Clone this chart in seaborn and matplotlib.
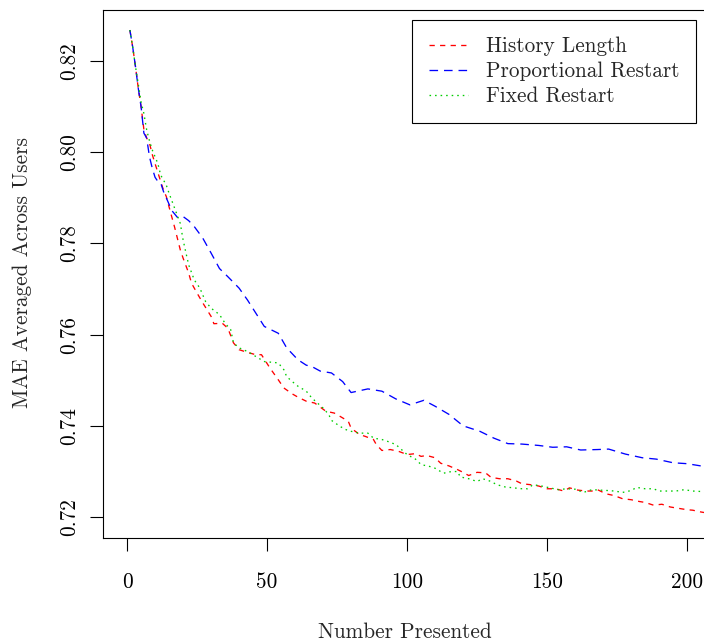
import matplotlib
matplotlib.use("Agg")
import matplotlib.pyplot as plt
import numpy as np
import pandas as pd
import seaborn as sns

# ---------------- data ----------------
hist_x = [1, 2, 3, 4, 5, 6, 7, 8, 9, 10, 12, 13, 14, 15, 17, 19, 20, 22, 23, 25, 27, 30, 31, 34,
          36, 38, 40, 43, 46, 48, 51, 54, 56, 59, 61, 64, 67, 69, 71, 74, 76, 79, 80, 83, 85,
          88, 89, 91, 94, 97, 100, 103, 105, 107, 110, 112, 115, 118, 120, 122, 125, 128, 130,
          133, 136, 139, 141, 144, 147, 150, 153, 156, 158, 161, 164, 166, 168, 171, 174, 177,
          180, 183, 185, 188, 191, 194, 197, 200, 202, 205, 208]
hist_y = [0.8268, 0.8231, 0.8188, 0.8140, 0.8100, 0.8050, 0.8031, 0.8020, 0.7995, 0.7975,
          0.7936, 0.7917, 0.7903, 0.7880, 0.7835, 0.7786, 0.7768, 0.7735, 0.7713, 0.7691,
          0.7670, 0.7640, 0.7624, 0.7625, 0.7614, 0.7582, 0.7567, 0.7561, 0.7556, 0.7556,
          0.7527, 0.7501, 0.7483, 0.7470, 0.7463, 0.7454, 0.7450, 0.7441, 0.7432, 0.7428,
          0.7421, 0.7410, 0.7395, 0.7381, 0.7377, 0.7370, 0.7359, 0.7346, 0.7348, 0.7344,
          0.7337, 0.7339, 0.7333, 0.7335, 0.7330, 0.7318, 0.7312, 0.7304, 0.7298, 0.7291,
          0.7298, 0.7297, 0.7287, 0.7284, 0.7284, 0.7279, 0.7273, 0.7271, 0.7268, 0.7262,
          0.7262, 0.7257, 0.7264, 0.7259, 0.7257, 0.7257, 0.7260, 0.7251, 0.7247, 0.7240,
          0.7238, 0.7234, 0.7232, 0.7226, 0.7228, 0.7222, 0.7219, 0.7216, 0.7215, 0.7211,
          0.7208]

prop_x = [1, 2, 3, 4, 5, 6, 7, 8, 9, 10, 11, 12, 13, 14, 16, 18, 20, 22, 24, 27, 30, 33, 36,
          40, 43, 46, 49, 54, 57, 61, 64, 66, 69, 73, 77, 80, 86, 91, 96, 101, 106, 110, 115,
          120, 126, 131, 136, 141, 147, 152, 157, 162, 168, 172, 178, 184, 189, 195, 200, 206,
          208]
prop_y = [0.8268, 0.8231, 0.8188, 0.8140, 0.8100, 0.8042, 0.8031, 0.7990, 0.7965, 0.7945,
          0.7936, 0.7933, 0.7914, 0.7900, 0.7872, 0.7857, 0.7859, 0.7850, 0.7837, 0.7812,
          0.7779, 0.7745, 0.7727, 0.7702, 0.7676, 0.7647, 0.7618, 0.7603, 0.7571, 0.7545,
          0.7533, 0.7530, 0.7520, 0.7516, 0.7497, 0.7473, 0.7481, 0.7476, 0.7459, 0.7446,
          0.7456, 0.7443, 0.7425, 0.7400, 0.7388, 0.7373, 0.7361, 0.7360, 0.7357, 0.7353,
          0.7354, 0.7347, 0.7348, 0.7349, 0.7338, 0.7330, 0.7327, 0.7319, 0.7317, 0.7311,
          0.7309]

fixed_x = [1, 2, 3, 4, 5, 6, 7, 8, 9, 11, 12, 14, 15, 17, 19, 20, 21, 22, 24, 26, 28, 30, 33,
           35, 37, 38, 40, 43, 46, 49, 54, 56, 57, 59, 61, 64, 66, 68, 70, 72, 73, 76, 78, 80,
           83, 86, 88, 91, 93, 96, 98, 100, 103, 105, 108, 110, 113, 115, 118, 119, 122, 125,
           127, 130, 132, 135, 138, 141, 143, 145, 148, 151, 154, 157, 160, 163, 166, 169, 172,
           174, 177, 180, 182, 185, 188, 190, 193, 196, 199, 202, 205, 208]
fixed_y = [0.8268, 0.8231, 0.8188, 0.8150, 0.8110, 0.8085, 0.8049, 0.8025, 0.8005, 0.7975,
           0.7950, 0.7928, 0.7910, 0.7877, 0.7844, 0.7808, 0.7780, 0.7753, 0.7720, 0.7702,
           0.7673, 0.7658, 0.7644, 0.7625, 0.7611, 0.7582, 0.7571, 0.7563, 0.7552, 0.7541,
           0.7538, 0.7523, 0.7508, 0.7497, 0.7487, 0.7476, 0.7461, 0.7450, 0.7439, 0.7425,
           0.7412, 0.7399, 0.7392, 0.7388, 0.7384, 0.7384, 0.7373, 0.7370, 0.7366, 0.7359,
           0.7348, 0.7337, 0.7327, 0.7315, 0.7311, 0.7307, 0.7296, 0.7299, 0.7300, 0.7288,
           0.7284, 0.7278, 0.7284, 0.7278, 0.7271, 0.7266, 0.7264, 0.7262, 0.7262, 0.7271,
           0.7268, 0.7264, 0.7260, 0.7262, 0.7261, 0.7254, 0.7260, 0.7259, 0.7258, 0.7257,
           0.7254, 0.7258, 0.7265, 0.7262, 0.7262, 0.7257, 0.7257, 0.7257, 0.7260, 0.7257,
           0.7256, 0.7254]

series_names = ["History Length", "Proportional Restart", "Fixed Restart"]
x_ticks = [0, 50, 100, 150, 200]
y_ticks = [0.72, 0.74, 0.76, 0.78, 0.80, 0.82]
y_tick_labels = ["0.72", "0.74", "0.76", "0.78", "0.80", "0.82"]

# ---------------- style ----------------
sns.set_style("ticks")
plt.rcParams["font.family"] = ["cmr10", "DejaVu Serif"]
plt.rcParams["mathtext.fontset"] = "cm"
plt.rcParams["axes.formatter.use_mathtext"] = True

FS = 15.3
W, H = 704, 642
fig = plt.figure(figsize=(W / 100, H / 100), dpi=100)
ax = fig.add_axes([103 / W, 1 - 538 / H, 1.003 - 103 / W, (538 - 10) / H])

colors = ["#FF0000", "#0000FF", "#00CD00"]
styles = [(0, (4, 4)), (0, (6.5, 4.5)), (0, (1.2, 3))]
xs = [hist_x, prop_x, fixed_x]
ys = [hist_y, prop_y, fixed_y]

for name, xv, yv, c, ls in zip(series_names, xs, ys, colors, styles):
    df = pd.DataFrame({"x": xv, "y": yv})
    sns.lineplot(data=df, x="x", y="y", ax=ax, color=c, linestyle=ls,
                 linewidth=0.95, label=name, estimator=None, sort=False)

ax.set_xlim(-8.6, 206.8)
ax.set_ylim(0.7154, 0.8312)
ax.set_xticks(x_ticks)
ax.set_xticklabels([str(t) for t in x_ticks])
ax.set_yticks(y_ticks)
ax.set_yticklabels(y_tick_labels)

ax.tick_params(axis="both", direction="out", length=9.5, width=0.8, color="black",
               labelsize=FS, labelcolor="black")
ax.tick_params(axis="x", pad=15.5)
ax.tick_params(axis="y", pad=8)
for lab in ax.get_yticklabels():
    lab.set_rotation(90)
    lab.set_va("center")

for s in ax.spines.values():
    s.set_visible(True)
    s.set_color("black")
    s.set_linewidth(0.8)

ax.set_xlabel("")
ax.set_ylabel("")
fig.text(405 / W, 1 - 632 / H, "Number Presented", ha="center", va="center", fontsize=FS)
fig.text(22 / W, 1 - 273 / H, "MAE Averaged Across Users", ha="center", va="center",
         rotation=90, fontsize=FS)

leg = ax.legend(loc="upper right", bbox_to_anchor=(696 / W, 1 - 20 / H),
                bbox_transform=fig.transFigure, fontsize=FS, frameon=True,
                fancybox=False, edgecolor="black", framealpha=1,
                handlelength=1.85, handletextpad=0.85, labelspacing=0.26,
                borderpad=0.78, borderaxespad=0)
leg.get_frame().set_linewidth(0.8)

fig.savefig("out.png", dpi=100)
